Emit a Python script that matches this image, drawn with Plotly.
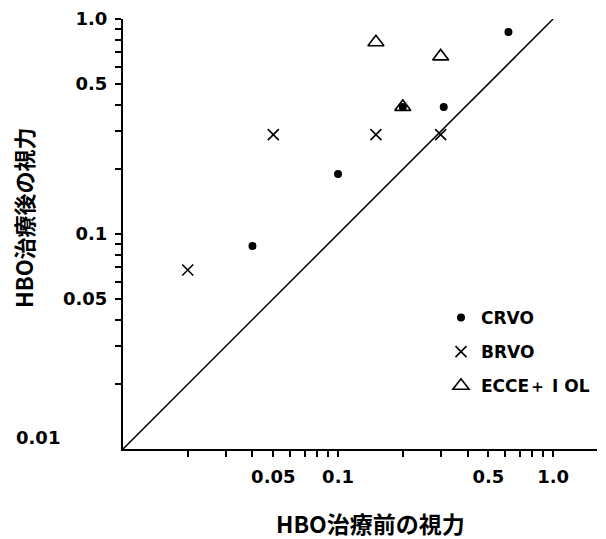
import math
import plotly.graph_objects as go

# ---- data ----
crvo_before = [0.62, 0.31, 0.10, 0.04, 0.20]
crvo_after = [0.87, 0.39, 0.19, 0.088, 0.39]
brvo_before = [0.02, 0.05, 0.15, 0.30]
brvo_after = [0.068, 0.29, 0.29, 0.29]
ecce_before = [0.15, 0.30, 0.20]
ecce_after = [0.78, 0.67, 0.39]
identity_line = [0.01, 1.0]

x_tick_vals = [0.02, 0.03, 0.04, 0.05, 0.06, 0.07, 0.08, 0.09,
               0.1, 0.2, 0.3, 0.4, 0.5, 0.6, 0.7, 0.8, 0.9, 1.0]
x_tick_text = ["", "", "", "0.05", "", "", "", "",
               "0.1", "", "", "", "0.5", "", "", "", "", "1.0"]
y_tick_vals = [0.02, 0.03, 0.04, 0.05, 0.06, 0.07, 0.08, 0.09,
               0.1, 0.2, 0.3, 0.4, 0.5, 0.6, 0.7, 0.8, 0.9, 1.0]
y_tick_text = ["", "", "", "0.05", "", "", "", "",
               "0.1", "", "", "", "0.5", "", "", "", "", "1.0"]

x_title = "HBO治療前の視力"
y_title = "HBO治療後の視力"
corner_label = "0.01"
names = ["CRVO", "BRVO", "ECCE＋ I OL"]

x_min, x_max = 0.01, 1.6
y_min, y_max = 0.01, 1.0

tick_font = dict(family="DejaVu Sans", size=18, color="black", weight="bold")
title_font = dict(family="Noto Sans CJK JP", size=23, color="black", weight="bold")
ytitle_font = dict(family="Noto Sans CJK JP", size=22, color="black", weight="bold")
legend_font = dict(family="DejaVu Sans", size=17, color="black", weight="bold")

fig = go.Figure()

fig.add_trace(go.Scatter(
    x=identity_line, y=identity_line, mode="lines",
    line=dict(color="black", width=1.5), showlegend=False, hoverinfo="skip"))

fig.add_trace(go.Scatter(
    x=ecce_before, y=ecce_after, mode="markers", name=names[2],
    legendgroup="c", legendrank=3,
    marker=dict(symbol="triangle-up-open", size=14, color="black",
                line=dict(color="black", width=1.6))))

fig.add_trace(go.Scatter(
    x=crvo_before, y=crvo_after, mode="markers", name=names[0],
    legendgroup="a", legendrank=1,
    marker=dict(symbol="circle", size=8, color="black")))

fig.add_trace(go.Scatter(
    x=brvo_before, y=brvo_after, mode="markers", name=names[1],
    legendgroup="b", legendrank=2,
    marker=dict(symbol="x-thin-open", size=11, color="black",
                line=dict(color="black", width=1.6))))

axis_common = dict(
    type="log", showgrid=False, zeroline=False, showline=True,
    linecolor="black", linewidth=2, ticks="outside", ticklen=6,
    tickwidth=1.5, tickcolor="black", tickfont=tick_font, automargin=False,
)

fig.update_xaxes(range=[math.log10(x_min), math.log10(x_max)],
                 tickvals=x_tick_vals, ticktext=x_tick_text,
                 ticklabelstandoff=4, **axis_common)
fig.update_yaxes(range=[math.log10(y_min), math.log10(y_max)],
                 tickvals=y_tick_vals, ticktext=y_tick_text,
                 ticklabelstandoff=4, **axis_common)

# the page body has an 8px margin (top/left); figure size and positions account for it
OFF = 8
W, H = 606 - OFF, 539 - OFF
L, R, T, B = 123 - OFF, 9, 19 - OFF, 90
pw, ph = W - L - R, H - T - B

def px_x(p):
    return (p - OFF - L) / pw

def px_y(p):
    return (H - B - (p - OFF)) / ph

fig.update_layout(
    width=W, height=H,
    margin=dict(l=L, r=R, t=T, b=B, autoexpand=False),
    paper_bgcolor="white", plot_bgcolor="white",
    showlegend=True,
    legend=dict(x=px_x(441), y=px_y(300), xanchor="left", yanchor="top",
                font=legend_font, bgcolor="rgba(0,0,0,0)",
                traceorder="grouped", tracegroupgap=9),
    annotations=[
        dict(text=x_title, xref="paper", yref="paper", x=px_x(370), y=px_y(523),
             xanchor="center", yanchor="middle", showarrow=False, font=title_font),
        dict(text=y_title, xref="paper", yref="paper", x=px_x(23), y=px_y(218),
             xanchor="center", yanchor="middle", showarrow=False, font=ytitle_font,
             textangle=-90),
        dict(text=corner_label, xref="paper", yref="paper", x=px_x(38), y=px_y(437),
             xanchor="center", yanchor="middle", showarrow=False, font=tick_font),
    ],
)

fig.write_html("out.html")
